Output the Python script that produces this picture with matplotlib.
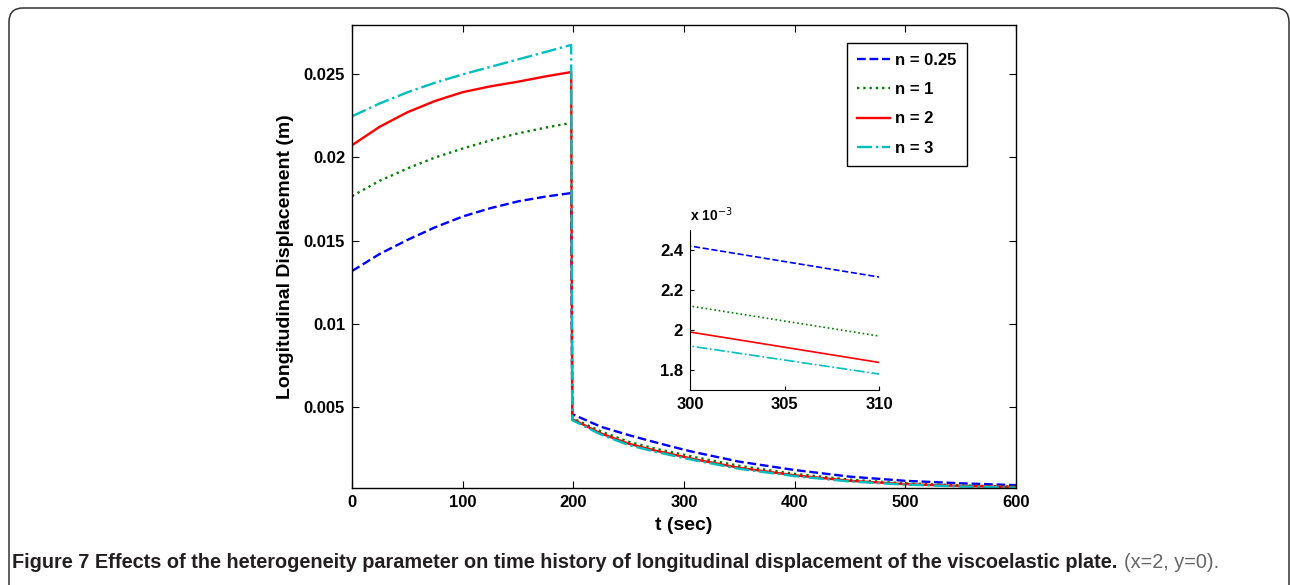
import matplotlib
matplotlib.use("Agg")
import matplotlib.pyplot as plt
from matplotlib.patches import FancyBboxPatch
from matplotlib.ticker import FuncFormatter

plt.rcParams['font.family'] = ['Liberation Sans', 'DejaVu Sans']

# time (sec) and longitudinal displacement (m)
t = [0, 25, 50, 75, 100, 125, 150, 175, 198, 199, 225, 250, 275, 300, 310,
     350, 400, 450, 500, 550, 600]
u_n025 = [0.01317, 0.01420, 0.01504, 0.01580, 0.01645, 0.01695, 0.01736, 0.01765, 0.01786,
          0.00456, 0.00380, 0.00330, 0.00285, 0.00242, 0.002265,
          0.00170, 0.00120, 0.00080, 0.00055, 0.00040, 0.00029]
u_n1 = [0.01768, 0.01860, 0.01934, 0.02000, 0.02054, 0.02103, 0.02145, 0.02180, 0.02208,
        0.00432, 0.00352, 0.00290, 0.00247, 0.00212, 0.00197,
        0.00145, 0.00097, 0.00062, 0.00040, 0.00028, 0.00020]
u_n2 = [0.02074, 0.02185, 0.02272, 0.02340, 0.02393, 0.02428, 0.02456, 0.02488, 0.02514,
        0.00426, 0.00340, 0.00278, 0.00235, 0.00199, 0.001838,
        0.00133, 0.00088, 0.00055, 0.00035, 0.00024, 0.00017]
u_n3 = [0.02248, 0.02325, 0.02392, 0.02450, 0.02500, 0.02545, 0.02590, 0.02635, 0.02677,
        0.00420, 0.00333, 0.00270, 0.00228, 0.00192, 0.00178,
        0.00127, 0.00083, 0.00051, 0.00032, 0.00021, 0.00014]

series = [
    (u_n025, "n = 0.25", (0, 0, 1), "--"),
    (u_n1, "n = 1", (0, 0.5, 0), ":"),
    (u_n2, "n = 2", (1, 0, 0), "-"),
    (u_n3, "n = 3", (0, 0.75, 0.75), "-."),
]

fig = plt.figure(figsize=(12.9, 5.85), dpi=100)

# rounded frame around the figure panel
frame = FancyBboxPatch((9, -20), 1280, 597, boxstyle="round,pad=0,rounding_size=14",
                       transform=None, facecolor="none", edgecolor="#333333", linewidth=1.1)
fig.add_artist(frame)

ax = fig.add_axes([0.2729, 0.1653, 0.5147, 0.7928])
for y, lab, col, ls in series:
    ax.plot(t, y, ls, color=col, lw=1.7, label=lab)

ax.set_xlim(0, 600)
ax.set_ylim(0.0001, 0.028)
ax.set_xticks([0, 100, 200, 300, 400, 500, 600])
ax.set_yticks([0.005, 0.01, 0.015, 0.02, 0.025])
ax.set_yticklabels(["0.005", "0.01", "0.015", "0.02", "0.025"])
ax.tick_params(direction="in", top=True, right=True, length=5, width=0.8,
               labelsize=12, pad=5)
for lbl in ax.get_xticklabels() + ax.get_yticklabels():
    lbl.set_fontweight("bold")
for s in ax.spines.values():
    s.set_linewidth(1.0)
ax.set_xlabel("t (sec)", fontsize=14, fontweight="bold", labelpad=5)
ax.set_ylabel("Longitudinal Displacement (m)", fontsize=14, fontweight="bold", labelpad=7)

leg = ax.legend(loc="upper right", bbox_to_anchor=(0.926, 0.96), fancybox=False,
                edgecolor="black", framealpha=1, borderaxespad=0,
                handlelength=2.0, handletextpad=0.3, labelspacing=0.85,
                borderpad=0.6, prop={"weight": "bold", "size": 12})
leg.get_frame().set_linewidth(1.0)

# inset zoom around t = 300..310
ins = fig.add_axes([0.5349, 0.3333, 0.1465, 0.2735])
for y, lab, col, ls in series:
    ins.plot(t, y, ls, color=col, lw=1.2)
ins.set_xlim(300, 310)
ins.set_ylim(0.0017, 0.0025)
ins.set_xticks([300, 305, 310])
ins.set_yticks([0.0018, 0.002, 0.0022, 0.0024])
ins.yaxis.set_major_formatter(FuncFormatter(lambda v, p: "%g" % round(v * 1e3, 3)))
ins.spines["top"].set_visible(False)
ins.spines["right"].set_visible(False)
ins.tick_params(direction="in", length=3, width=0.8, labelsize=12, pad=5)
for lbl in ins.get_xticklabels() + ins.get_yticklabels():
    lbl.set_fontweight("bold")
ins.text(0.0, 1.04, r"x 10$^{-3}$", transform=ins.transAxes, fontsize=10,
         fontweight="bold", ha="left", va="bottom")

# caption
cap = fig.text(0.0095, 0.029, "Figure 7 Effects of the heterogeneity parameter on time history of "
               "longitudinal displacement of the viscoelastic plate.",
               fontsize=14.3, fontweight="bold", color="#231f20", ha="left", va="baseline",
               family=["Liberation Sans Narrow", "Liberation Sans"])
fig.canvas.draw()
bb = cap.get_window_extent()
fig.text((bb.x1 + 6) / 1290, 0.029, "(x=2, y=0).", fontsize=14.3, color="#666666",
         ha="left", va="baseline", family=["Liberation Sans Narrow", "Liberation Sans"])

fig.savefig("out.png", dpi=100)
